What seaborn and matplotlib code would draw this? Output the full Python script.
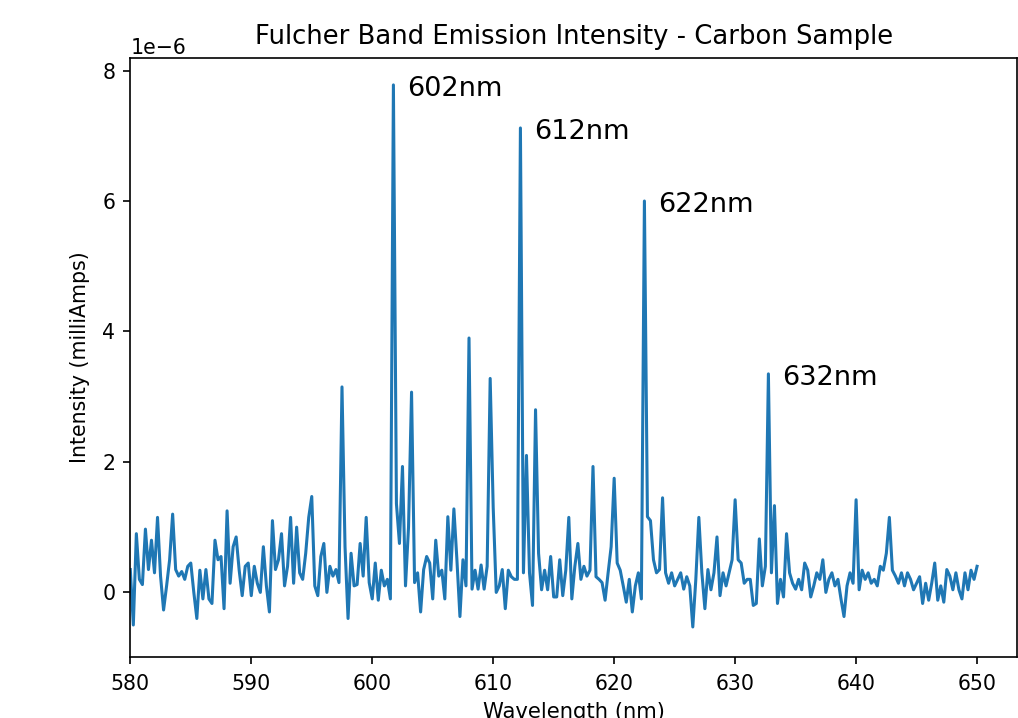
import numpy as np
import pandas as pd
import matplotlib
matplotlib.use("Agg")
import matplotlib.pyplot as plt
import seaborn as sns

# Intensity every 0.25 nm from 580 to 650 nm (units of 1e-6 mA)
intensity = [
    0.35, -0.5, 0.9, 0.2, 0.12, 0.97, 0.35, 0.8, 0.3, 1.15,
    0.25, -0.27, 0.1, 0.5, 1.2, 0.35, 0.25, 0.32, 0.2, 0.4,
    0.45, 0.0, -0.4, 0.34, -0.1, 0.35, -0.1, -0.17, 0.8, 0.5,
    0.55, -0.25, 1.25, 0.14, 0.7, 0.85, 0.34, -0.05, 0.4, 0.45,
    -0.05, 0.4, 0.14, 0.0, 0.7, 0.1, -0.3, 1.1, 0.35, 0.5,
    0.9, 0.1, 0.4, 1.15, 0.14, 1.0, 0.3, 0.2, 0.6, 1.15,
    1.47, 0.1, -0.05, 0.55, 0.75, 0.0, 0.4, 0.25, 0.35, 0.15,
    3.15, 0.7, -0.4, 0.6, 0.1, 0.12, 0.75, 0.25, 1.15, 0.15,
    -0.1, 0.45, -0.12, 0.34, 0.1, 0.2, -0.1, 7.78, 1.36, 0.75,
    1.93, 0.1, 1.0, 3.07, 0.15, 0.3, -0.3, 0.35, 0.55, 0.45,
    -0.1, 0.8, 0.25, 0.34, -0.1, 1.16, 0.34, 1.28, 0.5, -0.37,
    0.5, 0.1, 3.9, 0.05, 0.34, 0.05, 0.42, 0.05, 0.4, 3.28,
    1.3, 0.0, 0.1, 0.35, -0.25, 0.34, 0.24, 0.2, 0.2, 7.12,
    0.3, 2.1, 0.3, -0.2, 2.8, 0.6, 0.04, 0.34, 0.04, 0.55,
    -0.07, -0.07, 0.5, -0.05, 0.34, 1.15, -0.1, 0.4, 0.75, 0.2,
    0.4, 0.25, 0.34, 1.93, 0.24, 0.2, 0.15, -0.12, 0.3, 0.7,
    1.75, 0.45, 0.34, 0.1, -0.15, 0.2, -0.3, 0.1, 0.3, -0.1,
    6.0, 1.16, 1.1, 0.5, 0.3, 0.35, 1.45, 0.3, 0.14, 0.3,
    0.1, 0.2, 0.3, 0.05, 0.24, 0.1, -0.53, 0.2, 1.15, 0.3,
    -0.25, 0.35, 0.04, 0.3, 0.85, -0.05, 0.3, 0.1, 0.3, 0.5,
    1.42, 0.5, 0.45, 0.14, 0.2, 0.2, -0.2, -0.17, 0.82, 0.1,
    0.4, 3.35, 0.3, 1.33, -0.17, 0.2, -0.07, 0.9, 0.3, 0.14,
    0.05, 0.2, 0.04, 0.45, 0.34, -0.07, 0.1, 0.3, 0.2, 0.5,
    0.0, 0.2, 0.3, 0.1, 0.2, -0.1, -0.37, 0.1, 0.3, 0.14,
    1.42, 0.04, 0.34, 0.2, 0.3, 0.14, 0.2, 0.1, 0.4, 0.34,
    0.6, 1.15, 0.34, 0.25, 0.14, 0.3, 0.1, 0.3, 0.2, 0.04,
    0.14, 0.24, -0.17, 0.14, -0.12, 0.14, 0.45, -0.12, 0.1, -0.15,
    0.35, 0.25, 0.04, 0.3, 0.04, -0.1, 0.3, 0.04, 0.34, 0.2, 0.4,
]

# Labelled peaks
peak_labels = ["602nm", "612nm", "622nm", "632nm"]
peak_wavelengths = [601.75, 612.25, 622.5, 632.75]

wavelength = np.linspace(580, 650, len(intensity))
df = pd.DataFrame({"Wavelength": wavelength, "Intensity": np.array(intensity) * 1e-6})

fig, ax = plt.subplots(figsize=(10.18, 7.18), dpi=100)
fig.subplots_adjust(left=0.128, right=0.999, top=0.919, bottom=0.085)

sns.lineplot(data=df, x="Wavelength", y="Intensity", color="#1f77b4", linewidth=2.2, ax=ax)

# label the main peaks
for lab, wl in zip(peak_labels, peak_wavelengths):
    val = df.loc[(df["Wavelength"] - wl).abs().idxmin(), "Intensity"]
    ax.text(wl + 1.1, val - 0.06e-6, lab, fontsize=19.5, va="center", ha="left")

ax.set_xlim(580, 653.3)
ax.set_ylim(-0.99e-6, 8.19e-6)
ax.set_xticks(range(580, 651, 10))
ax.tick_params(labelsize=14.8, length=5.2, width=1.2)
ax.tick_params(axis="x", pad=6.9)
ax.tick_params(axis="y", pad=5.5)
for s in ax.spines.values():
    s.set_linewidth(1.2)
ax.yaxis.get_offset_text().set_fontsize(14.8)

ax.set_title("Fulcher Band Emission Intensity - Carbon Sample", fontsize=18.6, pad=10.5)
ax.set_xlabel("Wavelength (nm)", fontsize=15.2, labelpad=6.2)
ax.set_ylabel("Intensity (milliAmps)", fontsize=14.8, labelpad=9)

plt.savefig("out.png", dpi=100)
